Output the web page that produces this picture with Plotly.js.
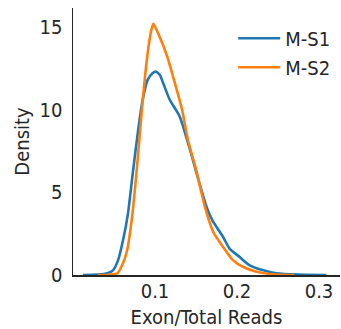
<!DOCTYPE html>
<html><head><meta charset="utf-8">
<script src="https://cdn.plot.ly/plotly-3.0.1.min.js"></script>
<style>html,body{margin:0;padding:0;background:#fff}#chart{width:341px;height:329px}</style>
</head><body><div id="chart"></div>
<script>
const seriesNames = ["M-S1", "M-S2"];
const xS1 = [0.012, 0.03, 0.042, 0.049, 0.055, 0.061, 0.067, 0.073, 0.079, 0.085, 0.091, 0.097, 0.101, 0.106, 0.110, 0.118, 0.130, 0.139, 0.146, 0.155, 0.163, 0.170, 0.183, 0.191, 0.203, 0.215, 0.231, 0.248, 0.276, 0.309];
const yS1 = [0.0, 0.02, 0.1, 0.3, 0.9, 2.1, 3.7, 6.2, 8.6, 10.6, 11.8, 12.2, 12.3, 12.1, 11.6, 10.6, 9.6, 8.2, 7.0, 5.4, 4.1, 3.3, 2.3, 1.6, 1.1, 0.6, 0.3, 0.1, 0.02, 0.0];
const xS2 = [0.03, 0.045, 0.054, 0.060, 0.066, 0.072, 0.078, 0.084, 0.090, 0.095, 0.098, 0.104, 0.115, 0.122, 0.133, 0.140, 0.151, 0.161, 0.171, 0.183, 0.195, 0.207, 0.224, 0.243, 0.27];
const yS2 = [0.0, 0.02, 0.1, 0.6, 1.5, 3.5, 6.5, 10.0, 13.0, 14.7, 15.2, 14.6, 13.2, 12.0, 10.0, 8.2, 6.2, 4.1, 2.6, 1.7, 0.9, 0.5, 0.2, 0.05, 0.0];
const xTicks = [0.1, 0.2, 0.3];
const xTickLabels = ["0.1", "0.2", "0.3"];
const yTicks = [0, 5, 10, 15];
const yTickLabels = ["0", "5", "10", "15"];

const fam = "'DejaVu Sans Condensed', 'DejaVu Sans', sans-serif";
const font = {family: fam, size: 20, color: "#262626"};
const traces = [
  {x: xS1, y: yS1, name: seriesNames[0], type: "scatter", mode: "lines", line: {color: "#1f77b4", width: 2.6, shape: "spline", smoothing: 0.6}},
  {x: xS2, y: yS2, name: seriesNames[1], type: "scatter", mode: "lines", line: {color: "#ff7f0e", width: 2.6, shape: "spline", smoothing: 0.6}}
];
const layout = {
  width: 341, height: 329,
  margin: {l: 73, r: 1, t: 8, b: 54},
  paper_bgcolor: "#fff", plot_bgcolor: "#fff",
  font: font,
  showlegend: true,
  legend: {x: 0.6, y: 0.96, xanchor: "left", yanchor: "top", bgcolor: "rgba(0,0,0,0)", itemwidth: 42, font: {family: fam, size: 20, color: "#262626"}, tracegroupgap: 0},
  xaxis: {range: [0, 0.3256], tickvals: xTicks, ticktext: xTickLabels, showgrid: false, zeroline: false,
    showline: true, linecolor: "#262626", linewidth: 1.5, ticks: "", ticklabelstandoff: -3,
    title: {text: "Exon/Total Reads", font: font, standoff: 9}},
  yaxis: {range: [0, 16.15], tickvals: yTicks, ticktext: yTickLabels, showgrid: false, zeroline: false,
    showline: true, linecolor: "#262626", linewidth: 1.5, ticks: "", ticklabelstandoff: 5,
    title: {text: "Density", font: font, standoff: 4}}
};
Plotly.newPlot("chart", traces, layout, {displayModeBar: false, staticPlot: true});
</script></body></html>
